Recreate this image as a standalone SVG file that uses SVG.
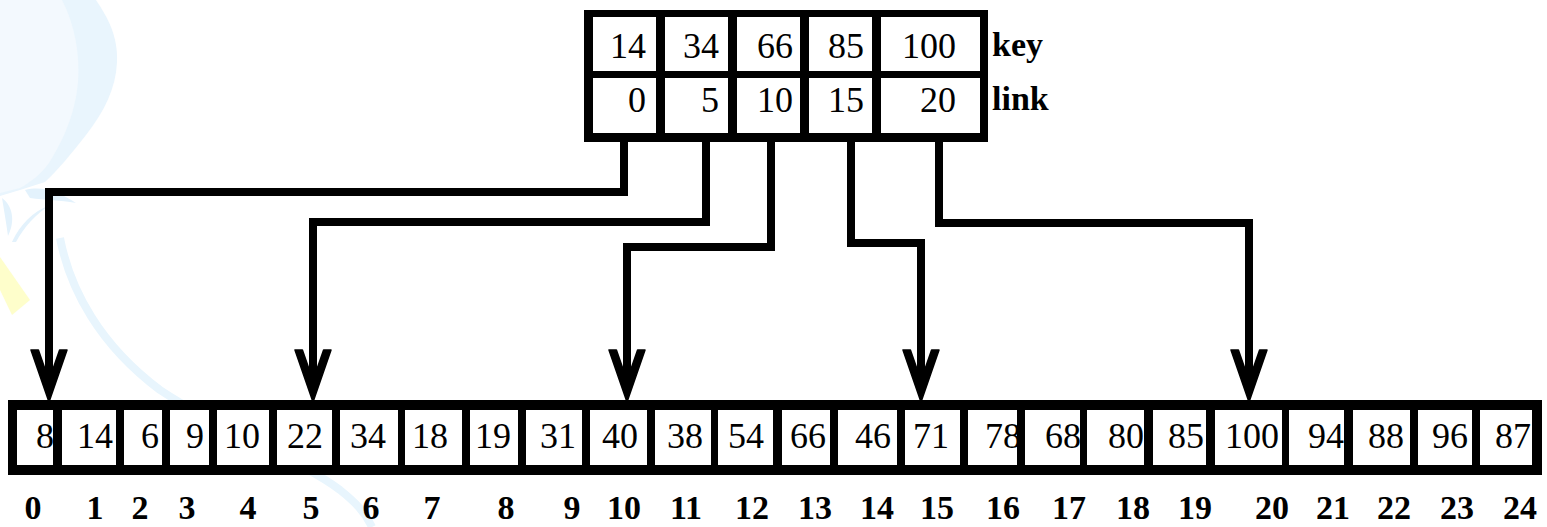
<svg xmlns="http://www.w3.org/2000/svg" width="1547" height="527" viewBox="0 0 1547 527">
  <style>
    .num { font-family: "Liberation Serif", "Times New Roman", serif; font-size: 36px; fill: #000; text-anchor: end; }
    .idx { font-family: "Liberation Serif", "Times New Roman", serif; font-size: 34px; font-weight: bold; fill: #000; text-anchor: middle; }
    .lbl { font-family: "Liberation Serif", "Times New Roman", serif; font-size: 34px; font-weight: bold; fill: #000; }
    .frame { fill: #000; }
    .cell { fill: #fff; }
    .link { fill: none; stroke: #000; stroke-width: 8; stroke-linejoin: miter; marker-end: url(#vhead); }
  </style>
  <defs>
    <!-- open V arrowhead, tip sits on the array's top edge -->
    <marker id="vhead" markerUnits="userSpaceOnUse" orient="auto" refX="-10" refY="0" markerWidth="60" markerHeight="40" overflow="visible">
      <path d="M0,0 L-52,18 L-52,10.6 L-21.4,0 L-52,-10.6 L-52,-18 Z" fill="#000" stroke="#000" stroke-width="1.5" stroke-linejoin="round"/>
    </marker>
  </defs>

  <rect width="1547" height="527" fill="#fff"/>

  <!-- faint watermark decoration on the left -->
  <g id="watermark">
    <path d="M0,0 L96,0 C108,18 118,36 117,62 C116,88 104,112 86,135 C71,154 58,170 45,182 L20,190 L0,196 Z" fill="#e9f5fd"/>
    <path d="M0,0 L62,0 C75,25 80,55 78,82 C75,115 63,140 49,163 C41,174 31,182 20,188 L0,193 Z" fill="#f3f9fe"/>
    <path d="M25,190 C45,185 62,194 76,203 C60,200 45,200 30,198 Z" fill="#e3f2fc"/>
    <path d="M2,198 C12,205 16,220 8,236 C6,222 4,210 2,198 Z" fill="#e3f2fc"/>
    <path d="M12,242 C20,225 32,212 50,205 C36,214 24,227 16,242 Z" fill="#e3f2fc"/>
    <path d="M60,238 C70,290 100,345 160,390 C220,430 300,460 340,490 C355,502 365,512 372,527" fill="none" stroke="#e8f5fd" stroke-width="8"/>
    <path d="M0,257 L30,300 L12,315 L0,290 Z" fill="#fefecb"/>
  </g>

  <!-- index table: keys (top row) and links (bottom row) -->
  <g id="index-table">
    <rect class="frame" x="584" y="10" width="404" height="132"/>
    <rect class="cell" x="593" y="17" width="63" height="54"/>
    <rect class="cell" x="665" y="17" width="63" height="54"/>
    <rect class="cell" x="737" y="17" width="63" height="54"/>
    <rect class="cell" x="809" y="17" width="63" height="54"/>
    <rect class="cell" x="881" y="17" width="99" height="54"/>
    <rect class="cell" x="593" y="78" width="63" height="55"/>
    <rect class="cell" x="665" y="78" width="63" height="55"/>
    <rect class="cell" x="737" y="78" width="63" height="55"/>
    <rect class="cell" x="809" y="78" width="63" height="55"/>
    <rect class="cell" x="881" y="78" width="99" height="55"/>
    <text class="num" x="646" y="58">14</text>
    <text class="num" x="719" y="58">34</text>
    <text class="num" x="793" y="58">66</text>
    <text class="num" x="864" y="58">85</text>
    <text class="num" x="956" y="58">100</text>
    <text class="num" x="646" y="112">0</text>
    <text class="num" x="719" y="112">5</text>
    <text class="num" x="793" y="112">10</text>
    <text class="num" x="864" y="112">15</text>
    <text class="num" x="956" y="112">20</text>
    <text class="lbl" x="992" y="56">key</text>
    <text class="lbl" x="992" y="110">link</text>
  </g>

  <!-- links from the index table into the block starts -->
  <g id="connectors">
    <path class="link" d="M624,142 V192 H49 V392"/>
    <path class="link" d="M706,142 V222 H313 V392"/>
    <path class="link" d="M771,142 V247 H627 V392"/>
    <path class="link" d="M851,142 V243 H921 V392"/>
    <path class="link" d="M939,142 V223 H1249 V392"/>
  </g>

  <!-- the data array -->
  <g id="array">
    <rect class="frame" x="8" y="400" width="1534" height="75"/>
    <g class="cells">
      <rect class="cell" x="17" y="410" width="36" height="55"/>
      <rect class="cell" x="62" y="410" width="54" height="55"/>
      <rect class="cell" x="124" y="410" width="38" height="55"/>
      <rect class="cell" x="170" y="410" width="39" height="55"/>
      <rect class="cell" x="217" y="410" width="52" height="55"/>
      <rect class="cell" x="277" y="410" width="55" height="55"/>
      <rect class="cell" x="340" y="410" width="58" height="55"/>
      <rect class="cell" x="405" y="410" width="57" height="55"/>
      <rect class="cell" x="470" y="410" width="48" height="55"/>
      <rect class="cell" x="526" y="410" width="56" height="55"/>
      <rect class="cell" x="590" y="410" width="57" height="55"/>
      <rect class="cell" x="655" y="410" width="56" height="55"/>
      <rect class="cell" x="718" y="410" width="55" height="55"/>
      <rect class="cell" x="782" y="410" width="48" height="55"/>
      <rect class="cell" x="838" y="410" width="59" height="55"/>
      <rect class="cell" x="905" y="410" width="55" height="55"/>
      <rect class="cell" x="968" y="410" width="49" height="55"/>
      <rect class="cell" x="1025" y="410" width="55" height="55"/>
      <rect class="cell" x="1087" y="410" width="57" height="55"/>
      <rect class="cell" x="1153" y="410" width="53" height="55"/>
      <rect class="cell" x="1215" y="410" width="67" height="55"/>
      <rect class="cell" x="1289" y="410" width="55" height="55"/>
      <rect class="cell" x="1353" y="410" width="57" height="55"/>
      <rect class="cell" x="1418" y="410" width="54" height="55"/>
      <rect class="cell" x="1480" y="410" width="52" height="55"/>
    </g>
    <g class="values">
      <text class="num" x="54" y="448">8</text>
      <text class="num" x="113" y="448">14</text>
      <text class="num" x="159" y="448">6</text>
      <text class="num" x="204" y="448">9</text>
      <text class="num" x="260" y="448">10</text>
      <text class="num" x="323" y="448">22</text>
      <text class="num" x="386" y="448">34</text>
      <text class="num" x="448" y="448">18</text>
      <text class="num" x="511" y="448">19</text>
      <text class="num" x="576" y="448">31</text>
      <text class="num" x="638" y="448">40</text>
      <text class="num" x="703" y="448">38</text>
      <text class="num" x="764" y="448">54</text>
      <text class="num" x="826" y="448">66</text>
      <text class="num" x="891" y="448">46</text>
      <text class="num" x="949" y="448">71</text>
      <text class="num" x="1021" y="448">78</text>
      <text class="num" x="1081" y="448">68</text>
      <text class="num" x="1144" y="448">80</text>
      <text class="num" x="1204" y="448">85</text>
      <text class="num" x="1279" y="448">100</text>
      <text class="num" x="1344" y="448">94</text>
      <text class="num" x="1404" y="448">88</text>
      <text class="num" x="1468" y="448">96</text>
      <text class="num" x="1531" y="448">87</text>
    </g>
    <g class="indices">
      <text class="idx" x="33" y="519">0</text>
      <text class="idx" x="95" y="519">1</text>
      <text class="idx" x="140" y="519">2</text>
      <text class="idx" x="187" y="519">3</text>
      <text class="idx" x="248" y="519">4</text>
      <text class="idx" x="311" y="519">5</text>
      <text class="idx" x="371" y="519">6</text>
      <text class="idx" x="432" y="519">7</text>
      <text class="idx" x="506" y="519">8</text>
      <text class="idx" x="572" y="519">9</text>
      <text class="idx" x="624" y="519">10</text>
      <text class="idx" x="686" y="519">11</text>
      <text class="idx" x="752" y="519">12</text>
      <text class="idx" x="815" y="519">13</text>
      <text class="idx" x="877" y="519">14</text>
      <text class="idx" x="937" y="519">15</text>
      <text class="idx" x="1003" y="519">16</text>
      <text class="idx" x="1069" y="519">17</text>
      <text class="idx" x="1133" y="519">18</text>
      <text class="idx" x="1195" y="519">19</text>
      <text class="idx" x="1272" y="519">20</text>
      <text class="idx" x="1333" y="519">21</text>
      <text class="idx" x="1394" y="519">22</text>
      <text class="idx" x="1457" y="519">23</text>
      <text class="idx" x="1520" y="519">24</text>
    </g>
  </g>
</svg>
